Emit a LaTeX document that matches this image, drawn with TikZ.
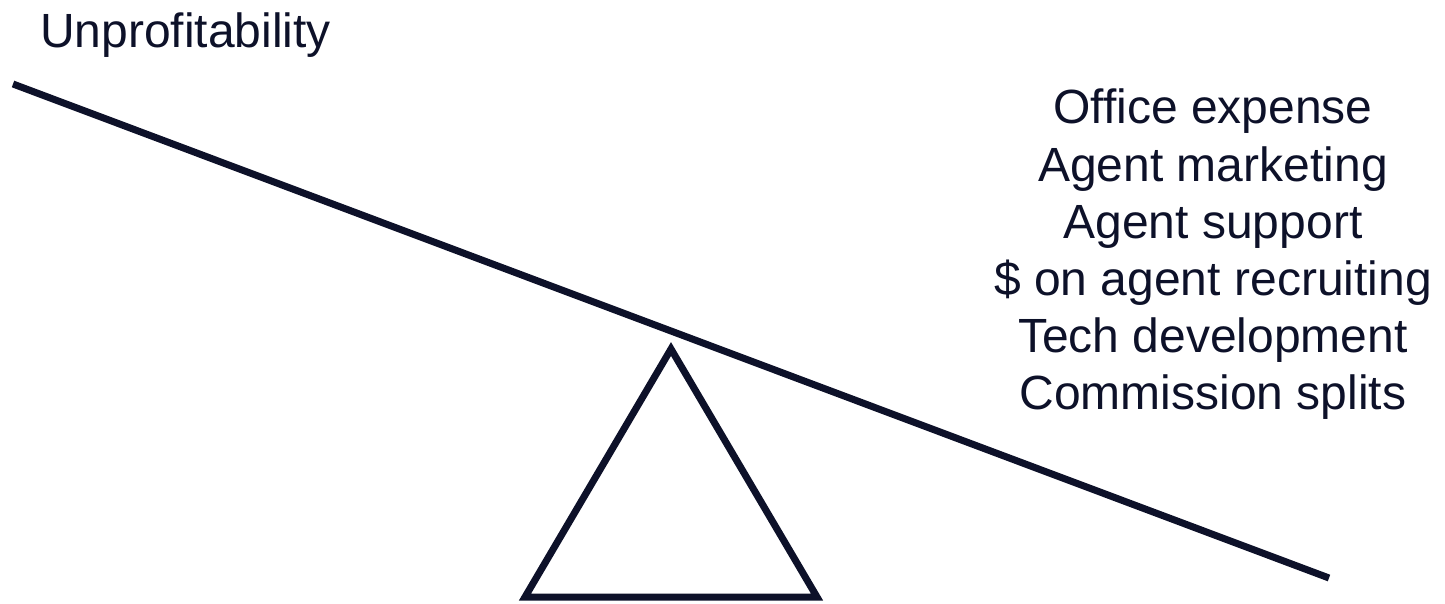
\documentclass[tikz,border=0pt]{standalone}
\usepackage{fontspec}
\setmainfont{Liberation Sans}
\definecolor{ink}{HTML}{0D1129}
\begin{document}
\begin{tikzpicture}[x=1pt,y=-1pt,
  beam/.style={draw=ink,line width=7pt,line cap=butt},
  fulcrum/.style={draw=ink,line width=7pt,line join=miter},
  lbl/.style={text=ink,inner sep=0pt,font=\fontsize{48}{57}\selectfont},
  item/.style={lbl,anchor=base}]
\useasboundingbox (0,0) rectangle (1445,603);
\coordinate (bl) at (13,84);
\coordinate (br) at (1329,578);
\draw[beam] (bl) -- (br);
\coordinate (t1) at (525,597);
\coordinate (t2) at (817,597);
\coordinate (t3) at (671,349);
\draw[fulcrum] (t1) -- (t2) -- (t3) -- cycle;
\node[lbl,anchor=base west] (unp) at (40,47) {Unprofitability};
\node[item] (i1) at (1213,123) {Office expense};
\node[item] (i2) at (1213,181) {Agent marketing};
\node[item] (i3) at (1213,238) {Agent support};
\node[item] (i4) at (1213,295) {\$ on agent recruiting};
\node[item] (i5) at (1213,352) {Tech development};
\node[item] (i6) at (1213,409) {Commission splits};
\end{tikzpicture}
\end{document}
